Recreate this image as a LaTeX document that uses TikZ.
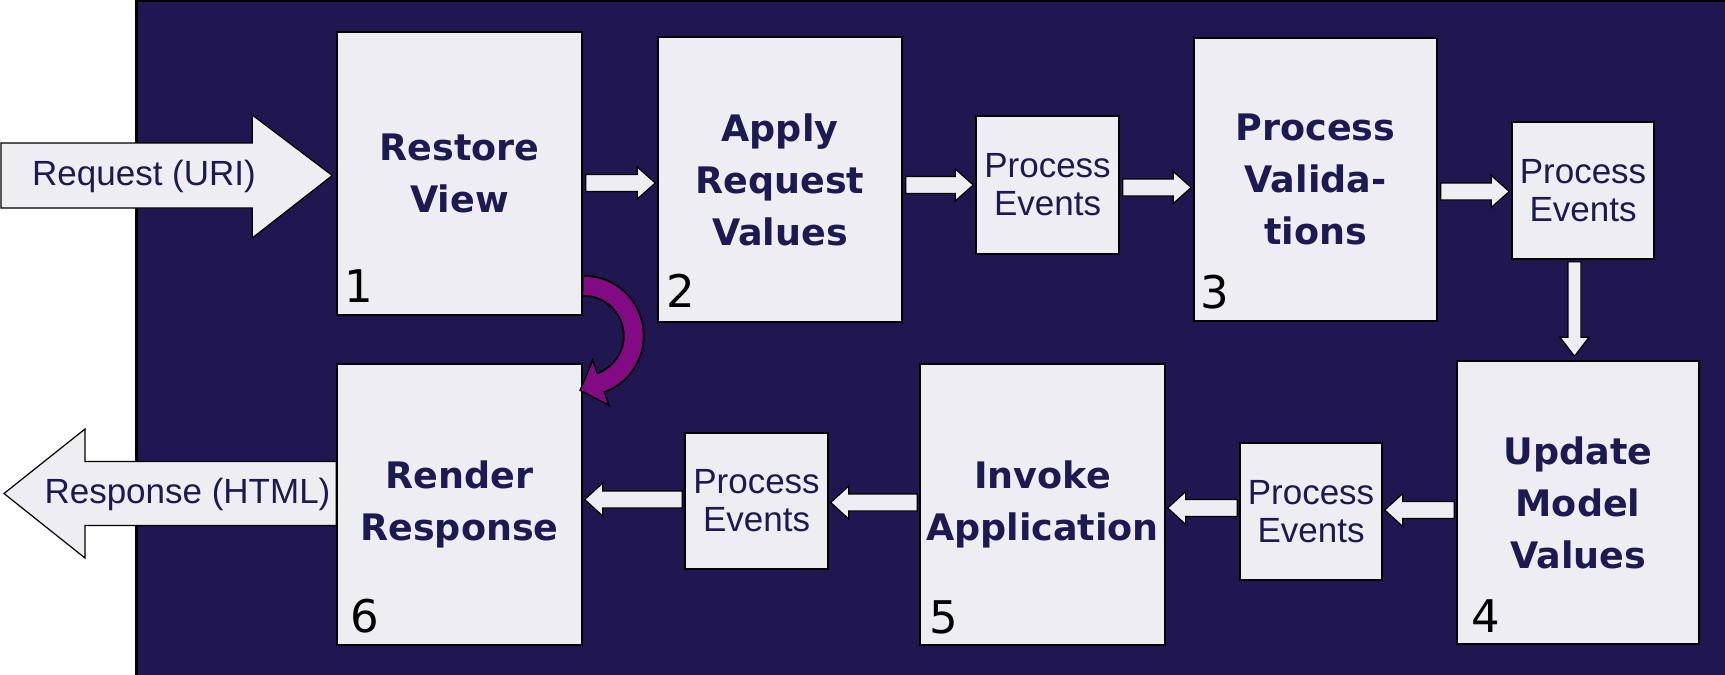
\documentclass[tikz,border=0pt]{standalone}
\usepackage{fontspec}
\setmainfont{Liberation Sans}
\newfontfamily\dvs{DejaVu Sans}
\usetikzlibrary{calc}
\definecolor{navy}{RGB}{32,22,80}
\definecolor{boxfill}{RGB}{238,238,242}
\definecolor{txt}{RGB}{28,26,82}
\definecolor{loopcol}{RGB}{130,10,130}
\tikzset{
  box/.style={draw=black, line width=1.5pt, fill=boxfill, inner sep=0pt, align=center, text=txt},
  bigbox/.style={box, font=\dvs\bfseries\fontsize{36.5}{52}\selectfont},
  pebox/.style={box, font=\fontsize{35}{38}\selectfont},
  num/.style={font=\dvs\fontsize{45}{45}\selectfont, text=black, inner sep=0pt, anchor=base west},
  lbl/.style={font=\fontsize{35}{38}\selectfont, text=txt, inner sep=0pt},
  warrow/.style={draw=black, line width=1.2pt, fill=boxfill, line join=miter},
}
% right arrow: source #1, target #2, height from #3 shifted by #4 (screen down)
\newcommand\arrowR[4]{\path[warrow] let \p1=(#1.east), \p2=(#2.west), \p3=($(#3.center)+(0,#4)$) in
  (\x1+3pt,\y3+8.5pt) -- (\x2-20pt,\y3+8.5pt) -- (\x2-20pt,\y3+16pt) -- (\x2-2pt,\y3)
  -- (\x2-20pt,\y3-16pt) -- (\x2-20pt,\y3-8.5pt) -- (\x1+3pt,\y3-8.5pt) -- cycle;}
% left arrow
\newcommand\arrowL[4]{\path[warrow] let \p1=(#1.west), \p2=(#2.east), \p3=($(#3.center)+(0,#4)$) in
  (\x1-2pt,\y3+8.5pt) -- (\x2+20pt,\y3+8.5pt) -- (\x2+20pt,\y3+16.5pt) -- (\x2+2pt,\y3)
  -- (\x2+20pt,\y3-16.5pt) -- (\x2+20pt,\y3-8.5pt) -- (\x1-2pt,\y3-8.5pt) -- cycle;}
\begin{document}
\begin{tikzpicture}[x=1pt,y=-1pt]
\useasboundingbox (0,0) rectangle (1725,675);
% background panel
\fill[navy] (136,0) rectangle (1725,675);
\draw[black, line width=3pt] (136,675) -- (136,0) -- (1725,0);

% boxes
\node[bigbox, minimum width=245pt, minimum height=283pt] (b1) at (459.5,173.5) {Restore\\View};
\node[bigbox, minimum width=244pt, minimum height=285pt] (b2) at (780,179.5) {Apply\\Request\\Values};
\node[pebox, minimum width=143pt, minimum height=138pt] (pe1) at (1047.5,185) {Process\\Events};
\node[bigbox, minimum width=243pt, minimum height=283pt] (b3) at (1315.5,179.5) {Process\\Valida-\\tions};
\node[pebox, minimum width=142pt, minimum height=137pt] (pe2) at (1583,190.5) {Process\\Events};
\node[bigbox, minimum width=242pt, minimum height=283pt] (b4) at (1578,502.5) {Update\\Model\\Values};
\node[pebox, minimum width=142pt, minimum height=137pt] (pe3) at (1311,511.5) {Process\\Events};
\node[bigbox, minimum width=245pt, minimum height=281pt] (b5) at (1042.5,504.5) {Invoke\\Application};
\node[pebox, minimum width=143pt, minimum height=136pt] (pe4) at (756.5,501) {Process\\Events};
\node[bigbox, minimum width=245pt, minimum height=281pt] (b6) at (459.5,504.5) {Render\\Response};

% phase numbers
\node[num] (n1) at ($(b1.south west)+(8,-13)$) {1};
\node[num] (n2) at ($(b2.south west)+(9,-15)$) {2};
\node[num] (n3) at ($(b3.south west)+(7,-13)$) {3};
\node[num] (n4) at ($(b4.south west)+(15,-12)$) {4};
\node[num] (n5) at ($(b5.south west)+(10,-12)$) {5};
\node[num] (n6) at ($(b6.south west)+(14,-13)$) {6};

% request / response arrows
\coordinate (reqL) at (0,175.5);
\coordinate (respL) at (4,493.5);
\path[warrow] let \p1=(reqL), \p2=(b1.west) in
  (\x1+1pt,\y1+32.5pt) -- (\x2-84pt,\y1+32.5pt) -- (\x2-84pt,\y1+60.5pt) -- (\x2-4pt,\y1)
  -- (\x2-84pt,\y1-62.5pt) -- (\x2-84pt,\y1-32.5pt) -- (\x1+1pt,\y1-32.5pt) -- cycle;
\path[warrow] let \p1=(respL), \p2=(b6.west) in
  (\x2,\y1+32pt) -- (\x1+81pt,\y1+32pt) -- (\x1+81pt,\y1+64.5pt) -- (\x1,\y1)
  -- (\x1+81pt,\y1-64.5pt) -- (\x1+81pt,\y1-32pt) -- (\x2,\y1-32pt) -- cycle;
\node[lbl, anchor=base] (reqt) at (144,185) {Request (URI)};
\node[lbl, anchor=base] (respt) at (187.5,503) {Response (HTML)};

% flow arrows
\arrowR{b1}{b2}{b2}{3.5}
\arrowR{b2}{pe1}{pe1}{0}
\arrowR{pe1}{b3}{pe1}{2.5}
\arrowR{b3}{pe2}{pe2}{1}
\path[warrow] let \p1=(pe2.south), \p2=(b4.north), \p3=($(b4.center)+(-3.5,0)$) in
  (\x3-6.5pt,\y1-2pt) -- (\x3-6.5pt,\y2+23pt) -- (\x3-14.5pt,\y2+23pt) -- (\x3,\y2+4pt)
  -- (\x3+14.5pt,\y2+23pt) -- (\x3+6.5pt,\y2+23pt) -- (\x3+6.5pt,\y1-2pt) -- cycle;
\arrowL{b4}{pe3}{pe3}{-1.5}
\arrowL{pe3}{b5}{b5}{3.5}
\arrowL{b5}{pe4}{pe4}{1.5}
\arrowL{pe4}{b6}{pe4}{-1.5}

% purple loop arrow from Restore View to Render Response
\coordinate (lc) at ($(b1.south east)+(1,20)$);
\draw[black, line width=22pt] ($(lc)+(0,-50)$) arc[start angle=-90, end angle=70, radius=50];
\draw[fill=loopcol, draw=black, line width=1.5pt, line join=miter]
  ($(lc)+(25.3,69.6)$) -- ($(lc)+(-3.6,54.5)$) -- ($(lc)+(8.9,24.4)$) -- cycle;
\draw[draw=loopcol, line width=18pt] ($(lc)+(0,-50)$) arc[start angle=-90, end angle=73, radius=50];
\end{tikzpicture}
\end{document}
